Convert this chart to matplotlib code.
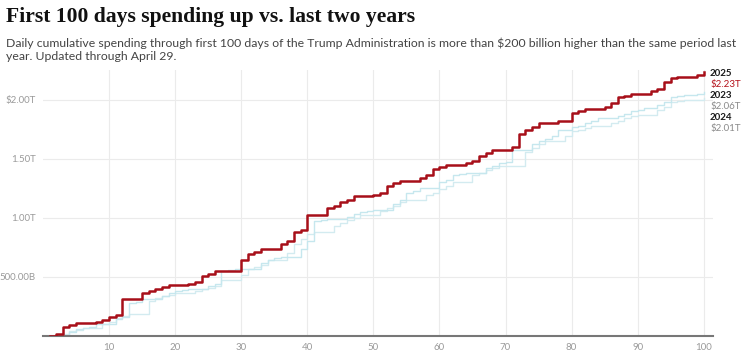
import matplotlib.pyplot as plt

# cumulative spending, trillions of dollars, day 1..100
days = list(range(1, 101))

spend_2025 = [0, 0.017, 0.076, 0.093, 0.11, 0.11, 0.11, 0.12, 0.135, 0.16,
              0.18, 0.31, 0.31, 0.31, 0.36, 0.38, 0.40, 0.415, 0.43, 0.43,
              0.43, 0.44, 0.46, 0.51, 0.525, 0.55, 0.55, 0.55, 0.55, 0.64,
              0.69, 0.71, 0.74, 0.74, 0.74, 0.78, 0.80, 0.88, 0.90, 1.02,
              1.02, 1.02, 1.085, 1.10, 1.13, 1.15, 1.18, 1.18, 1.18, 1.19,
              1.21, 1.27, 1.29, 1.31, 1.31, 1.31, 1.34, 1.36, 1.415, 1.43,
              1.45, 1.45, 1.45, 1.46, 1.48, 1.525, 1.55, 1.57, 1.57, 1.57,
              1.60, 1.71, 1.74, 1.77, 1.80, 1.80, 1.80, 1.815, 1.82, 1.89,
              1.90, 1.92, 1.92, 1.92, 1.94, 1.97, 2.02, 2.03, 2.05, 2.05,
              2.05, 2.07, 2.09, 2.15, 2.18, 2.195, 2.195, 2.195, 2.21, 2.23]

spend_2023 = [0, 0, 0, 0.03, 0.06, 0.07, 0.08, 0.10, 0.10, 0.10,
              0.14, 0.16, 0.28, 0.29, 0.31, 0.31, 0.31, 0.34, 0.36, 0.38,
              0.39, 0.40, 0.40, 0.40, 0.42, 0.44, 0.55, 0.56, 0.57, 0.57,
              0.57, 0.57, 0.62, 0.64, 0.66, 0.67, 0.67, 0.67, 0.74, 0.80,
              0.97, 0.98, 0.99, 0.99, 0.99, 1.01, 1.03, 1.05, 1.06, 1.07,
              1.07, 1.07, 1.12, 1.15, 1.21, 1.23, 1.25, 1.25, 1.25, 1.30,
              1.32, 1.36, 1.37, 1.38, 1.38, 1.38, 1.42, 1.44, 1.46, 1.47,
              1.57, 1.57, 1.57, 1.62, 1.65, 1.67, 1.69, 1.74, 1.74, 1.77,
              1.78, 1.80, 1.82, 1.84, 1.84, 1.84, 1.86, 1.88, 1.90, 1.915,
              1.93, 1.93, 1.95, 1.98, 2.02, 2.03, 2.04, 2.04, 2.05, 2.06]

spend_2024 = [0, 0, 0.02, 0.04, 0.05, 0.07, 0.07, 0.07, 0.10, 0.12,
              0.15, 0.17, 0.19, 0.19, 0.19, 0.30, 0.32, 0.34, 0.35, 0.36,
              0.36, 0.36, 0.38, 0.40, 0.41, 0.42, 0.47, 0.47, 0.47, 0.52,
              0.57, 0.58, 0.60, 0.64, 0.64, 0.64, 0.70, 0.78, 0.82, 0.86,
              0.88, 0.88, 0.88, 0.93, 0.96, 0.98, 1.00, 1.02, 1.02, 1.02,
              1.06, 1.08, 1.10, 1.13, 1.15, 1.15, 1.15, 1.19, 1.21, 1.24,
              1.27, 1.30, 1.30, 1.30, 1.36, 1.38, 1.40, 1.42, 1.44, 1.44,
              1.44, 1.44, 1.56, 1.59, 1.62, 1.65, 1.65, 1.65, 1.69, 1.73,
              1.74, 1.76, 1.78, 1.78, 1.78, 1.80, 1.82, 1.84, 1.86, 1.87,
              1.87, 1.87, 1.91, 1.94, 1.98, 1.99, 2.00, 2.00, 2.00, 2.01]

y_ticks = [0.5, 1.0, 1.5, 2.0]
y_labels = ["500.00B", "1.00T", "1.50T", "$2.00T"]
x_ticks = [10, 20, 30, 40, 50, 60, 70, 80, 90, 100]

end_labels = [("2025", "$2.23T", "#b5121b"),
              ("2023", "$2.06T", "#8a8a8a"),
              ("2024", "$2.01T", "#8a8a8a")]

RED = "#a70f19"
BLUE1 = "#c6e7ee"
BLUE2 = "#d3ebf0"
GRID = "#ebebeb"
TICK = "#9a9a9a"

fig = plt.figure(figsize=(7.43, 3.51), dpi=100)
ax = fig.add_axes([43/743, 1 - 336/351, (713-43)/743, (336-70)/351])

ax.step(days, spend_2024, where="post", color=BLUE2, lw=1.0, zorder=2)
ax.step(days, spend_2023, where="post", color=BLUE1, lw=1.0, zorder=2)
ax.step(days, spend_2025, where="post", color=RED, lw=1.8, zorder=3)

ax.set_xlim(0, 101.4)
ax.set_ylim(0, 2.25)
ax.set_xticks(x_ticks)
ax.set_yticks(y_ticks)
ax.set_yticklabels(y_labels)
ax.tick_params(length=0, colors=TICK, labelsize=7, pad=5)
for lab in ax.get_xticklabels() + ax.get_yticklabels():
    lab.set_fontfamily("Lato")
ax.grid(True, color=GRID, lw=0.8, zorder=0)
for s in ["top", "right", "left"]:
    ax.spines[s].set_visible(False)
ax.spines["bottom"].set_color("#777777")
ax.spines["bottom"].set_linewidth(1.5)

# labels at the end of the lines
ys = [74, 96, 118]
for (yr, val, c), py in zip(end_labels, ys):
    fig.text(710/743, 1 - py/351, yr, fontsize=7, fontweight="bold",
             color="#1a1a1a", family="Lato", va="center")
    fig.text(710/743, 1 - (py + 11)/351, val, fontsize=7, color=c,
             family="Lato", va="center")

fig.text(6/743, 1 - 17/351, "First 100 days spending up vs. last two years",
         fontsize=15.6, fontweight="bold", family="Liberation Serif", va="center",
         color="#111111")
fig.text(6/743, 1 - 43/351,
         "Daily cumulative spending through first 100 days of the Trump Administration is more than $200 billion higher than the same period last",
         fontsize=8.8, family="Lato", va="center", color="#444444")
fig.text(6/743, 1 - 57/351, "year. Updated through April 29.",
         fontsize=8.8, family="Lato", va="center", color="#444444")

fig.savefig("out.png", dpi=100)
